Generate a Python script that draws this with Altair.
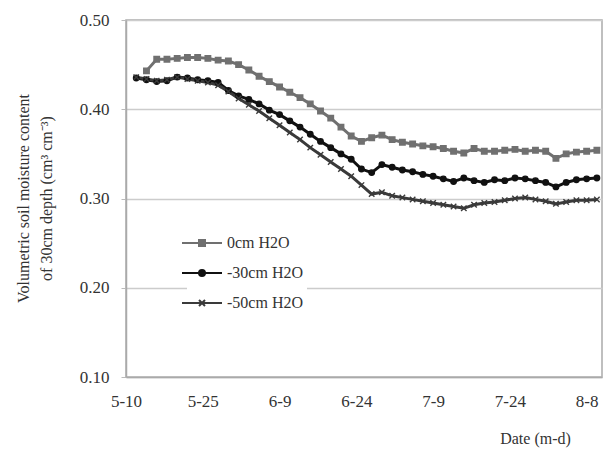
import altair as alt
import pandas as pd

# ---- data (day offset from 5-10) ----
days = list(range(2, 93, 2))
series_names = ["0cm H2O", "-30cm H2O", "-50cm H2O"]
s0 = [None, 0.443, 0.456, 0.456, 0.457, 0.458, 0.458, 0.457, 0.455, 0.454,
      0.450, 0.444, 0.437, 0.431, 0.425, 0.419, 0.413, 0.406, 0.398, 0.390,
      0.380, 0.370, 0.364, 0.368, 0.371, 0.366, 0.363, 0.361, 0.359, 0.358,
      0.356, 0.353, 0.351, 0.356, 0.353, 0.353, 0.354, 0.355, 0.353, 0.354,
      0.353, 0.345, 0.350, 0.352, 0.353, 0.354]
s30 = [0.435, 0.433, 0.431, 0.432, 0.436, 0.435, 0.433, 0.432, 0.430, 0.421,
       0.415, 0.411, 0.406, 0.399, 0.394, 0.387, 0.380, 0.372, 0.364, 0.357,
       0.350, 0.344, 0.333, 0.329, 0.338, 0.335, 0.332, 0.330, 0.327, 0.325,
       0.322, 0.319, 0.323, 0.320, 0.318, 0.321, 0.320, 0.323, 0.322, 0.320,
       0.318, 0.313, 0.318, 0.321, 0.322, 0.323]
s50 = [0.436, 0.434, 0.432, 0.433, 0.436, 0.434, 0.432, 0.430, 0.427, 0.420,
       0.412, 0.405, 0.398, 0.390, 0.382, 0.374, 0.366, 0.357, 0.349, 0.341,
       0.333, 0.325, 0.315, 0.305, 0.307, 0.303, 0.301, 0.299, 0.297, 0.295,
       0.293, 0.291, 0.289, 0.293, 0.295, 0.296, 0.298, 0.300, 0.301, 0.299,
       0.297, 0.294, 0.296, 0.298, 0.298, 0.299]
tick_days = [0, 15, 30, 45, 60, 75, 90]
tick_labels = ["5-10", "5-25", "6-9", "6-24", "7-9", "7-24", "8-8"]
y_ticks = [0.10, 0.20, 0.30, 0.40, 0.50]

rows = []
for name, vals in zip(series_names, [s0, s30, s50]):
    for d, v in zip(days, vals):
        if v is not None:
            rows.append({"day": d, "value": v, "series": name})
df = pd.DataFrame(rows)

colors = ["#707070", "#111111", "#3a3a3a"]
marker_paths = ["M-1,-1H1V1H-1Z", "circle", "M-1,-1L1,1M-1,1L1,-1"]
legend_paths = [
    "M-2,0H2M-0.3,-0.3H0.3V0.3H-0.3Z",
    "M-2,0H2M-0.3,0A0.3,0.3,0,1,1,0.3,0A0.3,0.3,0,1,1,-0.3,0Z",
    "M-2,0H2M-0.3,-0.3L0.3,0.3M-0.3,0.3L0.3,-0.3",
]

FONT = "Liberation Serif"
label_expr = "[" + ",".join("'%s'" % t for t in tick_labels) + "][round(datum.value/15)]"

x = alt.X("day:Q",
          scale=alt.Scale(domain=[0, 93], nice=False, zero=False),
          axis=alt.Axis(values=tick_days, labelExpr=label_expr, title="Date (m-d)",
                        grid=False, ticks=False, domainColor="#aaaaaa", domainWidth=1.5,
                        labelFlush=False, labelFont=FONT, labelFontSize=17,
                        labelColor="#333333", labelPadding=16,
                        titleFont=FONT, titleFontSize=16,
                        titleFontWeight="normal", titleColor="#333333",
                        titleX=409, titleY=61, titleBaseline="middle"))
y = alt.Y("value:Q",
          scale=alt.Scale(domain=[0.10, 0.50], nice=False, zero=False),
          axis=alt.Axis(values=y_ticks, format=".2f",
                        title=["Volumetric soil moisture content", "of 30cm depth (cm\u00b3 cm\u207b\u00b3)"],
                        grid=True, gridColor="#cccccc", gridWidth=1.5,
                        domainColor="#aaaaaa", domainWidth=1.5,
                        tickSize=5, tickColor="#bbbbbb",
                        labelFont=FONT, labelFontSize=17, labelColor="#333333", labelPadding=12,
                        titleFont=FONT, titleFontSize=16, titleFontWeight="normal",
                        titleColor="#333333", titleLineHeight=23,
                        titleX=-103, titleY=178, titleBaseline="middle"))

legend = alt.Legend(orient="none", legendX=61, legendY=208, title=None,
                    symbolSize=400, symbolStrokeWidth=2,
                    labelFont=FONT, labelFontSize=16, labelColor="#333333",
                    labelOffset=14, rowPadding=11, fillColor="white", padding=4)
color = alt.Color("series:N", scale=alt.Scale(domain=series_names, range=colors), legend=legend)

lines = alt.Chart(df).mark_line(strokeWidth=3).encode(x=x, y=y, color=color)

marker_layers = []
for name, path, col in zip(series_names, marker_paths, colors):
    marker_layers.append(
        alt.Chart(df).transform_filter(alt.datum.series == name)
        .mark_point(shape=path, filled=True, size=30, color=col, stroke=col,
                    strokeWidth=1.4, opacity=1)
        .encode(x=x, y=y)
    )

hidden = (alt.Chart(df).transform_filter("false")
          .mark_point(filled=True, size=400, strokeWidth=2, opacity=1)
          .encode(x=x, y=y, color=color,
                  shape=alt.Shape("series:N",
                                  scale=alt.Scale(domain=series_names, range=legend_paths),
                                  legend=legend)))

chart = alt.layer(lines, *marker_layers, hidden).properties(
    width=476, height=357,
    autosize=alt.AutoSizeParams(type="none"),
    padding={"left": 126, "top": 20, "right": 4, "bottom": 73},
    background="white",
).configure_view(stroke="#aaaaaa", strokeWidth=1.5)

chart.save("out.html", embed_options={"renderer": "svg", "actions": False})
